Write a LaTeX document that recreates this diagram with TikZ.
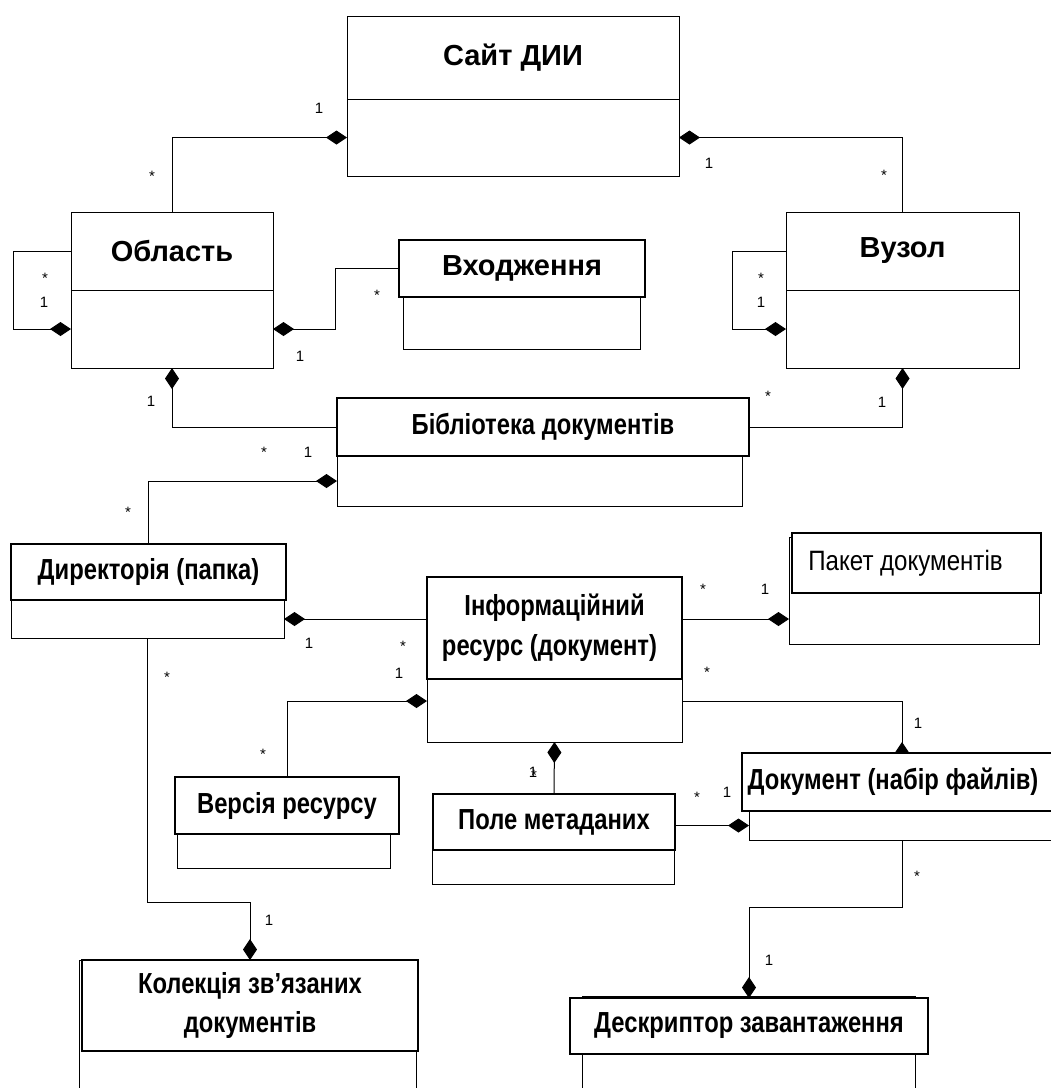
\documentclass[tikz,border=0pt]{standalone}
\usepackage{fontspec}
\setmainfont{Liberation Sans}
\newfontfamily\narrowfont[FakeStretch=0.82]{Liberation Sans}
\newfontfamily\packfont[FakeStretch=0.86]{Liberation Sans}
\usetikzlibrary{arrows.meta}
\pgfdeclarelayer{links}
\pgfsetlayers{links,main}
\begin{document}
\begin{tikzpicture}[x=1pt,y=-1pt,
  every node/.style={inner sep=0pt, outer sep=0pt},
  box/.style={draw, line width=1pt, fill=white, anchor=north west},
  hbox/.style={box, line width=1.8pt},
  ttl/.style={font=\bfseries\fontsize{29}{33}\selectfont, align=center},
  nttl/.style={font=\narrowfont\bfseries\fontsize{29}{33}\selectfont, align=center},
  conn/.style={line width=1pt},
  comp/.style={conn, {Diamond[length=21pt,width=14pt]}-},
  mult/.style={font=\fontsize{15}{15}\selectfont},
  star/.style={mult, yshift=-3pt}
]
\useasboundingbox (0,0) rectangle (1051,1088);
\clip (0,0) rectangle (1051,1088);

% ---- classes: lower compartment first, then the name compartment ----
\node[box, minimum width=332pt, minimum height=77pt] (siteb) at (347,99) {};
\node[box, ttl, minimum width=332pt, minimum height=83pt] (site) at (347,16) {Сайт ДИИ};

\node[box, minimum width=202pt, minimum height=78pt] (areab) at (71,290) {};
\node[box, ttl, minimum width=202pt, minimum height=78pt] (area) at (71,212) {Область};

\node[box, minimum width=233pt, minimum height=78pt] (vuzb) at (786,290) {};
\node[box, ttl, minimum width=233pt, minimum height=78pt] (vuz) at (786,212) {Вузол};

\node[box, minimum width=237pt, minimum height=52pt] (entryb) at (403,297) {};
\node[hbox, ttl, minimum width=246pt, minimum height=57pt] (entry) at (399,240) {Входження};

\node[box, minimum width=405pt, minimum height=50pt] (libb) at (337,456) {};
\node[hbox, nttl, minimum width=412pt, minimum height=58pt] (lib) at (337,398) {Бібліотека документів};

\node[box, minimum width=273pt, minimum height=38pt] (dirb) at (11,600) {};
\node[hbox, nttl, minimum width=275pt, minimum height=56pt] (dir) at (11,544) {Директорія (папка)};

\node[box, minimum width=250pt, minimum height=107pt] (packb) at (789,537) {};
\node[hbox, font=\packfont\fontsize{28}{32}\selectfont, minimum width=249pt, minimum height=60pt] (pack) at (792,533) {\hspace*{-22pt}Пакет документів};

\node[box, minimum width=255pt, minimum height=63pt] (infob) at (427,679) {};
\node[hbox, nttl, font=\narrowfont\bfseries\fontsize{29}{37}\selectfont, minimum width=255pt, minimum height=102pt] (info) at (427,577) {\raisebox{3pt}{Інформаційний}\\ресурс (документ)\hspace*{10pt}};

\node[box, minimum width=213pt, minimum height=34pt] (verb) at (177,834) {};
\node[hbox, nttl, minimum width=224pt, minimum height=57pt] (ver) at (175,777) {Версія ресурсу};

\node[box, minimum width=242pt, minimum height=34pt] (metab) at (432,850) {};
\node[hbox, nttl, minimum width=242pt, minimum height=56pt] (meta) at (433,794) {Поле метаданих};

\node[box, minimum width=320pt, minimum height=29pt] (docb) at (749,811) {};
\node[hbox, nttl, minimum width=320pt, minimum height=58pt] (doc) at (742,753) {\hspace*{-18pt}Документ (набір файлів)};

\node[box, minimum width=337pt, minimum height=150pt] (collb) at (79,960) {};
\node[hbox, nttl, font=\narrowfont\bfseries\fontsize{29}{39}\selectfont, minimum width=336pt, minimum height=91pt] (coll) at (82,960) {Колекція зв’язаних\\документів};

\node[box, minimum width=333pt, minimum height=120pt] (descb) at (582,996) {};
\node[hbox, nttl, minimum width=358pt, minimum height=56pt] (desc) at (570,998) {Дескриптор завантаження};

% ---- composition links, kept behind the class boxes ----
\begin{pgfonlayer}{links}
\draw[comp] (siteb.west) -| (area.north);
\draw[comp] (siteb.east) -| (vuz.north);
\draw[comp] (areab.west) -| ([xshift=-58pt]area.west) -- (area.west);
\draw[comp] (vuzb.west) -| ([xshift=-54pt]vuz.west) -- (vuz.west);
\draw[comp] (areab.east) -- ++(62,0) |- (entry.west);
\draw[comp] (areab.south) |- (lib.west);
\draw[comp] (vuzb.south) |- (lib.east);
\draw[comp] (libb.west) -| (dir.north);
\draw[comp] (dirb.east) -- (dirb.east -| info.west);
\draw[comp] (packb.west |- dirb.east) -- (info.east |- dirb.east);
\draw[comp] ([yshift=-22pt]infob.north west) -| (ver.north);
\draw[comp] ([yshift=-10pt]doc.north) |- ([yshift=-22pt]infob.north east);
\draw[comp] (infob.south) -- (meta.north);
\draw[comp] (docb.west) -- (docb.west -| meta.east);
\draw[comp] (coll.north) -- ++(0,-58) -| (dirb.south);
\draw[comp] (desc.north) -- ++(0,-91) -| (doc.north |- docb.south);
\end{pgfonlayer}

% ---- multiplicities ----
\node[mult] (m1) at (319,108) {1};
\node[star] (m2) at (152,173) {*};
\node[mult] (m3) at (709,163) {1};
\node[star] (m4) at (884,172) {*};
\node[star] (m5) at (45,275) {*};
\node[mult] (m6) at (44,302) {1};
\node[star] (m7) at (761,275) {*};
\node[mult] (m8) at (761,302) {1};
\node[star] (m9) at (377,292) {*};
\node[mult] (m10) at (300,356) {1};
\node[mult] (m11) at (151,401) {1};
\node[star] (m12) at (768,393) {*};
\node[mult] (m13) at (882,402) {1};
\node[star] (m14) at (264,449) {*};
\node[mult] (m15) at (308,452) {1};
\node[star] (m16) at (128,509) {*};
\node[mult] (m17) at (309,643) {1};
\node[star] (m18) at (403,643) {*};
\node[star] (m19) at (703,586) {*};
\node[mult] (m20) at (765,589) {1};
\node[mult] (m21) at (399,673) {1};
\node[star] (m22) at (263,751) {*};
\node[star] (m23) at (707,669) {*};
\node[mult] (m24) at (918,723) {1};
\node[mult] (m25) at (533,772) {1};
\node[star] (m26) at (534,772) {*};
\node[star] (m27) at (697,794) {*};
\node[mult] (m28) at (727,792) {1};
\node[star] (m29) at (167,674) {*};
\node[mult] (m30) at (269,920) {1};
\node[star] (m31) at (917,873) {*};
\node[mult] (m32) at (769,960) {1};
\end{tikzpicture}
\end{document}
